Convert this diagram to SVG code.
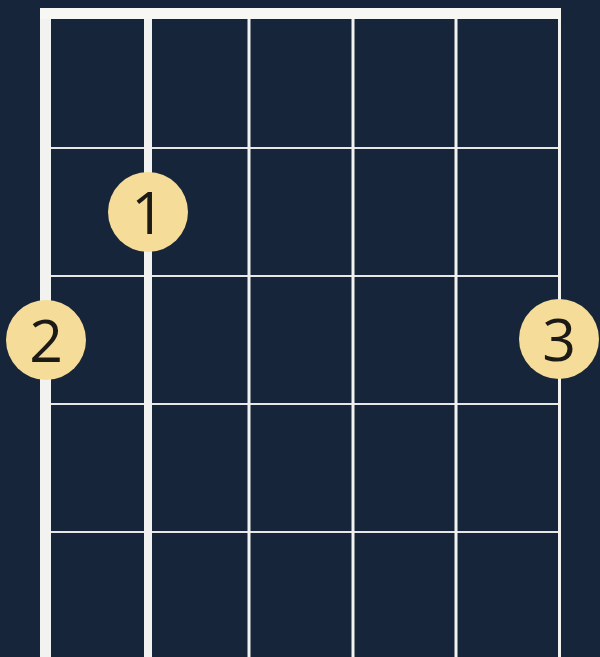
<svg xmlns="http://www.w3.org/2000/svg" width="600" height="657" viewBox="0 0 600 657">
<style>
.fret{stroke:#e6e8e6;stroke-width:2}
.str{stroke:#f2f3f0}
.dot circle{fill:#f5dc98}
.dot text{font-family:"Open Sans","Liberation Sans",sans-serif;font-size:59px;font-weight:400;fill:#1c1a16;text-anchor:middle;dominant-baseline:central}
</style>
<rect width="600" height="657" fill="#16253a"/>
<g id="connectors">
<line class="fret" x1="45" y1="148" x2="560" y2="148"/>
<line class="fret" x1="45" y1="276" x2="560" y2="276"/>
<line class="fret" x1="45" y1="404" x2="560" y2="404"/>
<line class="fret" x1="45" y1="532" x2="560" y2="532"/>
<line class="str" x1="249" y1="8" x2="249" y2="657" stroke-width="3"/>
<line class="str" x1="353" y1="8" x2="353" y2="657" stroke-width="3"/>
<line class="str" x1="456" y1="8" x2="456" y2="657" stroke-width="3"/>
<line class="str" x1="559.5" y1="8" x2="559.5" y2="657" stroke-width="3"/>
<line class="str" x1="148" y1="8" x2="148" y2="657" stroke-width="8"/>
<line class="str" x1="45.5" y1="8" x2="45.5" y2="657" stroke-width="11"/>
<rect x="40" y="8" width="521" height="11" fill="#f7f7f3"/>
</g>
<g id="dot1" class="dot"><circle cx="148" cy="212" r="40"/><text x="148" y="211">1</text></g>
<g id="dot2" class="dot"><circle cx="46" cy="340" r="40"/><text x="46" y="339">2</text></g>
<g id="dot3" class="dot"><circle cx="559" cy="339" r="40"/><text x="559" y="338">3</text></g>
</svg>
